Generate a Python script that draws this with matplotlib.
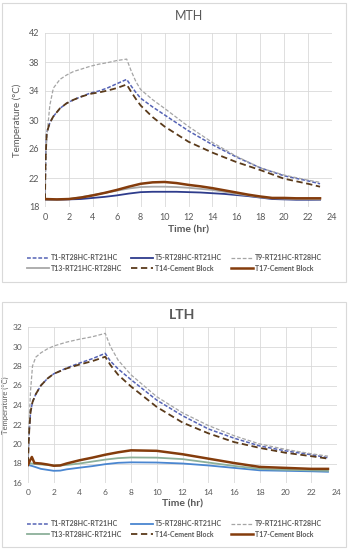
import numpy as np
import matplotlib
matplotlib.use("Agg")
import matplotlib.pyplot as plt
from matplotlib.patches import Rectangle

plt.rcParams["font.family"] = ["Lato", "DejaVu Sans"]

# ---- MTH data ----
t_mth_pcm = [0, 0.05, 0.14, 0.4, 0.7, 1.25, 1.8, 2.4, 3.0, 3.76, 4.5, 5.2, 6.0, 6.83,
             7.2, 7.6, 8, 9, 10, 12, 14, 16, 18, 20, 22, 23]
mth_t1 = [19, 24.5, 28.2, 29.6, 30.5, 31.6, 32.3, 32.8, 33.2, 33.7, 34.0, 34.4, 35.0, 35.6,
          34.7, 33.8, 33.0, 31.8, 30.7, 28.5, 26.6, 24.9, 23.4, 22.3, 21.6, 21.2]
mth_t9 = [19, 23.5, 27.4, 32.0, 34.4, 35.6, 36.2, 36.7, 37.0, 37.4, 37.7, 37.9, 38.2, 38.4,
          36.8, 35.3, 34.2, 32.8, 31.6, 29.1, 26.9, 25.0, 23.4, 22.4, 21.7, 21.4]
mth_t14 = [19, 24.5, 28.2, 29.6, 30.5, 31.6, 32.3, 32.8, 33.2, 33.6, 33.8, 34.05, 34.4, 34.9,
           33.9, 32.9, 32.0, 30.4, 29.1, 27.0, 25.5, 24.2, 23.1, 21.9, 21.2, 20.8]

t_mth_ref = [0, 1, 2, 3, 4, 5, 6, 7, 8, 9, 10, 11, 12, 13, 14, 15, 16, 17, 18, 19,
             20, 21, 22, 23]
mth_t5 = [19.0, 19.0, 19.05, 19.1, 19.25, 19.4, 19.6, 19.85, 20.05, 20.1, 20.1, 20.1, 20.05,
          20.0, 19.9, 19.8, 19.65, 19.5, 19.3, 19.1, 19.05, 19.0, 19.0, 19.0]
mth_t13 = [19.0, 19.0, 19.1, 19.35, 19.65, 19.95, 20.25, 20.55, 20.75, 20.8, 20.8, 20.75,
           20.65, 20.5, 20.35, 20.1, 19.8, 19.6, 19.35, 19.2, 19.15, 19.1, 19.1, 19.05]
mth_t17 = [19.1, 19.05, 19.1, 19.3, 19.6, 19.95, 20.35, 20.8, 21.2, 21.4, 21.45, 21.3, 21.05,
           20.85, 20.6, 20.3, 20.0, 19.7, 19.45, 19.25, 19.25, 19.2, 19.2, 19.2]

# ---- LTH data ----
t_lth_pcm = [0, 0.05, 0.1, 0.2, 0.35, 0.6, 1.0, 1.5, 2, 3, 4, 5, 6,
             6.4, 7, 8, 10, 12, 14, 16, 18, 20, 22, 23.3]
lth_t1 = [18, 20.0, 21.5, 23.3, 24.3, 25.1, 26.0, 26.7, 27.2, 27.8, 28.3, 28.75, 29.3,
          28.5, 27.7, 26.6, 24.5, 22.9, 21.55, 20.6, 19.8, 19.3, 18.9, 18.6]
lth_t9 = [18, 20.5, 22.5, 25.5, 28.0, 28.9, 29.35, 29.75, 30.05, 30.45, 30.75, 31.0, 31.35,
          30.0, 28.6, 27.1, 24.85, 23.2, 21.9, 20.85, 20.0, 19.45, 19.0, 18.75]
lth_t14 = [18, 20.0, 21.5, 23.3, 24.3, 25.1, 26.0, 26.7, 27.2, 27.75, 28.15, 28.5, 28.95,
           28.1, 27.1, 25.9, 23.8, 22.2, 21.1, 20.2, 19.6, 19.1, 18.75, 18.5]

t_lth_ref = [0, 0.15, 0.3, 0.5, 1, 1.5, 2, 2.5, 3, 4, 5, 6, 7, 8, 10, 12, 14, 16, 18,
             20, 22, 23.3]
lth_t5 = [17.9, 17.8, 17.75, 17.67, 17.45, 17.35, 17.25, 17.27, 17.4, 17.57, 17.73, 17.93,
          18.07, 18.12, 18.1, 18.0, 17.8, 17.55, 17.3, 17.25, 17.2, 17.15]
lth_t13 = [18.0, 18.0, 18.0, 17.95, 17.9, 17.85, 17.8, 17.8, 17.85, 18.0, 18.2, 18.4,
           18.55, 18.62, 18.6, 18.45, 18.1, 17.75, 17.45, 17.35, 17.3, 17.25]
lth_t17 = [17.85, 18.3, 18.67, 18.05, 18.0, 17.9, 17.77, 17.8, 18.0, 18.33, 18.6, 18.9,
           19.15, 19.35, 19.3, 18.95, 18.5, 18.05, 17.65, 17.55, 17.45, 17.45]

labels_mth = ["T1-RT28HC-RT21HC", "T5-RT28HC-RT21HC", "T9-RT21HC-RT28HC",
              "T13-RT21HC-RT28HC", "T14-Cement Block", "T17-Cement Block"]
labels_lth = ["T1-RT28HC-RT21HC", "T5-RT28HC-RT21HC", "T9-RT21HC-RT28HC",
              "T13-RT28HC-RT21HC", "T14-Cement Block", "T17-Cement Block"]

W, H = 349, 550
fig = plt.figure(figsize=(W / 100, H / 100), dpi=100)


def fx(px):
    return px / W


def fy(py):
    return 1 - py / H


# panel frames
for top, bot in [(3, 282), (302, 547)]:
    fig.add_artist(Rectangle((fx(2), fy(bot)), fx(344), (bot - top) / H,
                             transform=fig.transFigure, fill=False,
                             edgecolor="#D9D9D9", lw=0.8))

txt = "#595959"


def style_axes(ax, ylim, yticks, tick_fs):
    ax.set_xlim(0, 24)
    ax.set_ylim(*ylim)
    ax.set_xticks(np.arange(0, 25, 2))
    ax.set_yticks(yticks)
    ax.grid(True, color="#D9D9D9", lw=0.6)
    ax.set_axisbelow(True)
    for s in ax.spines.values():
        s.set_visible(False)
    ax.tick_params(length=0, labelsize=tick_fs, labelcolor=txt, pad=4)


def draw(ax, tp, t1, t9, t14, tr, t5, t13, t17, c5, c13):
    h = {}
    h["t1"], = ax.plot(tp, t1, color="#5563B5", lw=1.1, ls=(0, (2.5, 1.2)))
    h["t5"], = ax.plot(tr, t5, color=c5, lw=1.3)
    h["t9"], = ax.plot(tp, t9, color="#A5A5A5", lw=0.9, ls=(0, (3, 1.5)))
    h["t13"], = ax.plot(tr, t13, color=c13, lw=1.3)
    h["t14"], = ax.plot(tp, t14, color="#5A3A1A", lw=1.3, ls=(0, (3.5, 2)))
    h["t17"], = ax.plot(tr, t17, color="#843C0C", lw=1.8)
    return h


def add_legend(h, labels, y, fs):
    # matplotlib fills legend columns first, reorder so rows read T1,T5,T9 / T13,T14,T17
    order = ["t1", "t13", "t5", "t14", "t9", "t17"]
    lab_map = dict(zip(["t1", "t5", "t9", "t13", "t14", "t17"], labels))
    leg = fig.legend([h[k] for k in order], [lab_map[k] for k in order],
                     loc="center", bbox_to_anchor=(0.5, fy(y)), ncol=3,
                     frameon=False, handlelength=3.2,
                     columnspacing=1.2, handletextpad=0.3, labelspacing=0.5,
                     prop={"weight": "bold", "size": fs})
    for t in leg.get_texts():
        t.set_color(txt)


# ---- MTH ----
ax1 = fig.add_axes([fx(45), fy(207), fx(287), 174 / H])
style_axes(ax1, (18, 42), np.arange(18, 43, 4), 6.5)
h1 = draw(ax1, t_mth_pcm, mth_t1, mth_t9, mth_t14,
          t_mth_ref, mth_t5, mth_t13, mth_t17, "#2E3C8C", "#A8A8A8")
ax1.set_title("MTH", fontsize=9, color=txt, pad=9)
ax1.set_xlabel("Time (hr)", fontsize=7.5, fontweight="bold", color=txt, labelpad=3)
ax1.set_ylabel("Temperature (°C)", fontsize=7, color=txt, labelpad=5)
add_legend(h1, labels_mth, 263, 5)

# ---- LTH ----
ax2 = fig.add_axes([fx(28), fy(483), fx(309), 156 / H])
style_axes(ax2, (16, 32), np.arange(16, 33, 2), 6)
h2 = draw(ax2, t_lth_pcm, lth_t1, lth_t9, lth_t14,
          t_lth_ref, lth_t5, lth_t13, lth_t17, "#4A86D0", "#8CB09A")
ax2.set_title("LTH", fontsize=10, fontweight="bold", color=txt, pad=6)
ax2.set_xlabel("Time (hr)", fontsize=7.5, fontweight="bold", color=txt, labelpad=3)
ax2.set_ylabel("Temperature (°C)", fontsize=5.5, color=txt, labelpad=3)
add_legend(h2, labels_lth, 529, 5)

fig.savefig("out.png", dpi=100)
